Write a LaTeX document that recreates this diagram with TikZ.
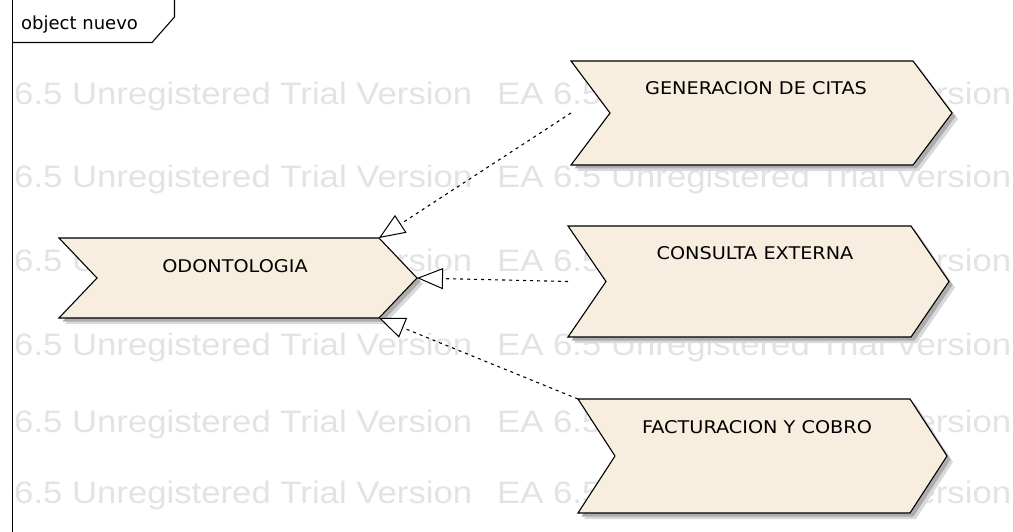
\documentclass[tikz,border=0pt]{standalone}
\usepackage{fontspec}
\setmainfont{DejaVu Sans}
\newfontfamily\wmfont{Liberation Sans}
\usetikzlibrary{arrows.meta,calc}

\definecolor{chevfill}{HTML}{F7EEDF}
\definecolor{wmgray}{HTML}{E3E3E3}

% chevron-shaped activity drawn around the bounding rectangle of a node
\newcommand\chevron[2]{%
  \fill[black!15] ([shift={(6,6)}]#1.north west) -- ([shift={(6,6)},xshift=-#2pt]#1.north east)
    -- ([shift={(6,6)}]#1.east) -- ([shift={(6,6)},xshift=-#2pt]#1.south east)
    -- ([shift={(6,6)}]#1.south west) -- ([shift={(6,6)},xshift=#2pt]#1.west) -- cycle;
  \fill[black!32] ([shift={(3.5,3.5)}]#1.north west) -- ([shift={(3.5,3.5)},xshift=-#2pt]#1.north east)
    -- ([shift={(3.5,3.5)}]#1.east) -- ([shift={(3.5,3.5)},xshift=-#2pt]#1.south east)
    -- ([shift={(3.5,3.5)}]#1.south west) -- ([shift={(3.5,3.5)},xshift=#2pt]#1.west) -- cycle;
  \filldraw[chevbody] (#1.north west) -- ([xshift=-#2pt]#1.north east) -- (#1.east)
    -- ([xshift=-#2pt]#1.south east) -- (#1.south west) -- ([xshift=#2pt]#1.west) -- cycle;}

\begin{document}
\begin{tikzpicture}[x=1pt,y=-1pt,
  chevarea/.style 2 args={minimum width=#1pt, minimum height=#2pt, inner sep=0pt, outer sep=0pt},
  chevbody/.style={fill=chevfill, draw=black, line width=1.1pt, line join=miter},
  lbl/.style={font=\fontsize{17.5}{20}\selectfont, inner sep=0pt, xscale=1.1},
  wmark/.style={font=\wmfont\fontsize{31}{36}\selectfont, text=wmgray, anchor=base west, inner sep=0pt, xscale=1.12},
  framestyle/.style={draw=black, line width=1.8pt},
  tabstyle/.style={draw=black, line width=1.1pt},
  realize/.style={line width=1.1pt, dash pattern=on 3pt off 4pt,
    -{Triangle[length=26pt, width=21pt, fill=white, line width=1pt]}}]

\useasboundingbox (0,0) rectangle (1013,532);
\fill[white] (0,0) rectangle (1013,532);

% trial watermark rows
\foreach \i/\yy in {1/105, 2/188, 3/272, 4/355, 5/432, 6/503} {
  \node[wmark] (wmL\i) at (14,\yy) {6.5 Unregistered Trial Version};
  \node[wmark] (wmR\i) at (497,\yy) {EA 6.5 Unregistered Trial Version};
}

% diagram frame with its name tab
\draw[framestyle] (12.5,0) -- (12.5,532);
\draw[tabstyle] (12.5,42.5) -- (152,42.5) -- (174.5,17) -- (174.5,0);
\node[font=\fontsize{18}{20}\selectfont, anchor=west, inner sep=0pt] (title) at (21,25) {object nuevo};

% activity outlines
\node[chevarea={358}{80}] (odo) at (238,278) {};
\node[chevarea={381}{104}] (gen) at (761.5,113) {};
\node[chevarea={381}{111}] (con) at (758.5,281.5) {};
\node[chevarea={369}{114}] (fac) at (762.5,456) {};

\chevron{odo}{38}
\chevron{gen}{39}
\chevron{con}{38}
\chevron{fac}{37}

\node[lbl] (odo-t) at (235,266) {ODONTOLOGIA};
\node[lbl] (gen-t) at (756,88) {GENERACION DE CITAS};
\node[lbl] (con-t) at (755,253) {CONSULTA EXTERNA};
\node[lbl] (fac-t) at (757,427) {FACTURACION Y COBRO};

% corners of the parent activity where the links arrive
\coordinate (odo-ne) at ([xshift=-38pt]odo.north east);
\coordinate (odo-se) at ([xshift=-38pt]odo.south east);

\draw[realize] (gen.west) -- (odo-ne);
\draw[realize] (con.west) -- (odo.east);
\draw[realize] (fac.north west) -- (odo-se);

\end{tikzpicture}
\end{document}
